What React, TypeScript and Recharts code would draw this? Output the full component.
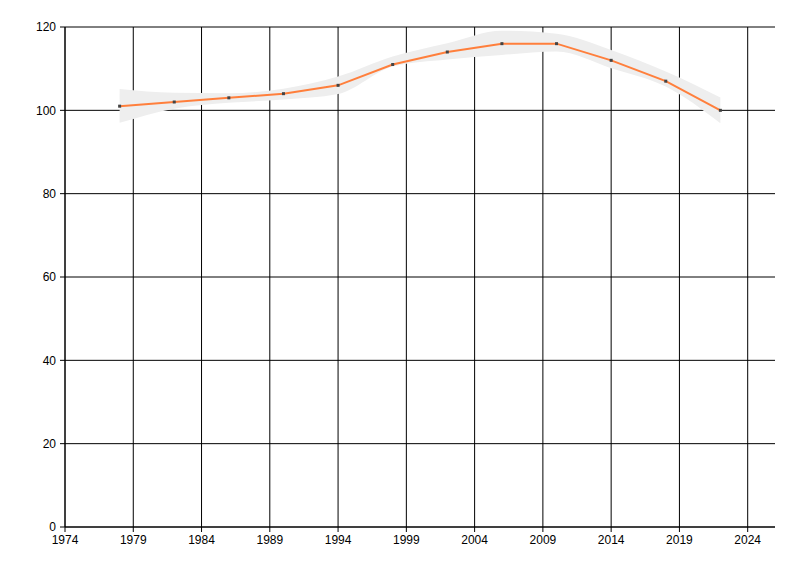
import React from "react";
import {
  ComposedChart,
  Line,
  Area,
  XAxis,
  YAxis,
  CartesianGrid,
} from "recharts";

const years = [1978, 1982, 1986, 1990, 1994, 1998, 2002, 2006, 2010, 2014, 2018, 2022];
const values = [101, 102, 103, 104, 106, 111, 114, 116, 116, 112, 107, 100];
const bandLow = [97, 100.4, 101.8, 102.6, 103.9, 110.5, 112.2, 113.3, 114.1, 110.1, 105.7, 96.9];
const bandHigh = [105.1, 104.2, 104.1, 105.2, 108.1, 112.9, 116.1, 119.1, 118.4, 114.5, 109.3, 103.1];

const xTicks = [1974, 1979, 1984, 1989, 1994, 1999, 2004, 2009, 2014, 2019, 2024];
const yTicks = [0, 20, 40, 60, 80, 100, 120];

const data = years.map((year, i) => ({
  year,
  value: values[i],
  band: [bandLow[i], bandHigh[i]],
}));

const tickStyle = { fill: "#000", fontSize: 12, fontFamily: "Liberation Sans, Arial, sans-serif" };

const SquareDot = (props: any) => {
  const { cx, cy, index } = props;
  if (cx == null || cy == null) return null;
  return <rect key={index} x={cx - 1.5} y={cy - 1.5} width={3} height={3} fill="#444" />;
};

export default function App() {
  return (
    <div style={{ position: "absolute", left: 0, top: 0, width: 800, height: 576, background: "#fff" }}>
      <ComposedChart
        width={800}
        height={576}
        data={data}
        margin={{ top: 27, right: 25, bottom: 19, left: 0 }}
      >
        <CartesianGrid stroke="#000" strokeWidth={1} horizontalValues={yTicks} verticalValues={xTicks} />
        <XAxis
          dataKey="year"
          type="number"
          domain={[1974, 2026]}
          ticks={xTicks}
          interval={0}
          height={30}
          stroke="#000"
          tickSize={5}
          tickMargin={3}
          tick={tickStyle}
          allowDataOverflow
        />
        <YAxis
          type="number"
          domain={[0, 120]}
          ticks={yTicks}
          interval={0}
          width={65}
          stroke="#000"
          tickSize={5}
          tickMargin={4}
          tick={tickStyle}
        />
        <Area
          dataKey="band"
          type="monotone"
          stroke="none"
          fill="#eeeeee"
          fillOpacity={1}
          isAnimationActive={false}
          dot={false}
          activeDot={false}
        />
        <Line
          dataKey="value"
          type="linear"
          stroke="#ff7f3c"
          strokeWidth={2}
          dot={SquareDot}
          activeDot={false}
          isAnimationActive={false}
        />
      </ComposedChart>
    </div>
  );
}
